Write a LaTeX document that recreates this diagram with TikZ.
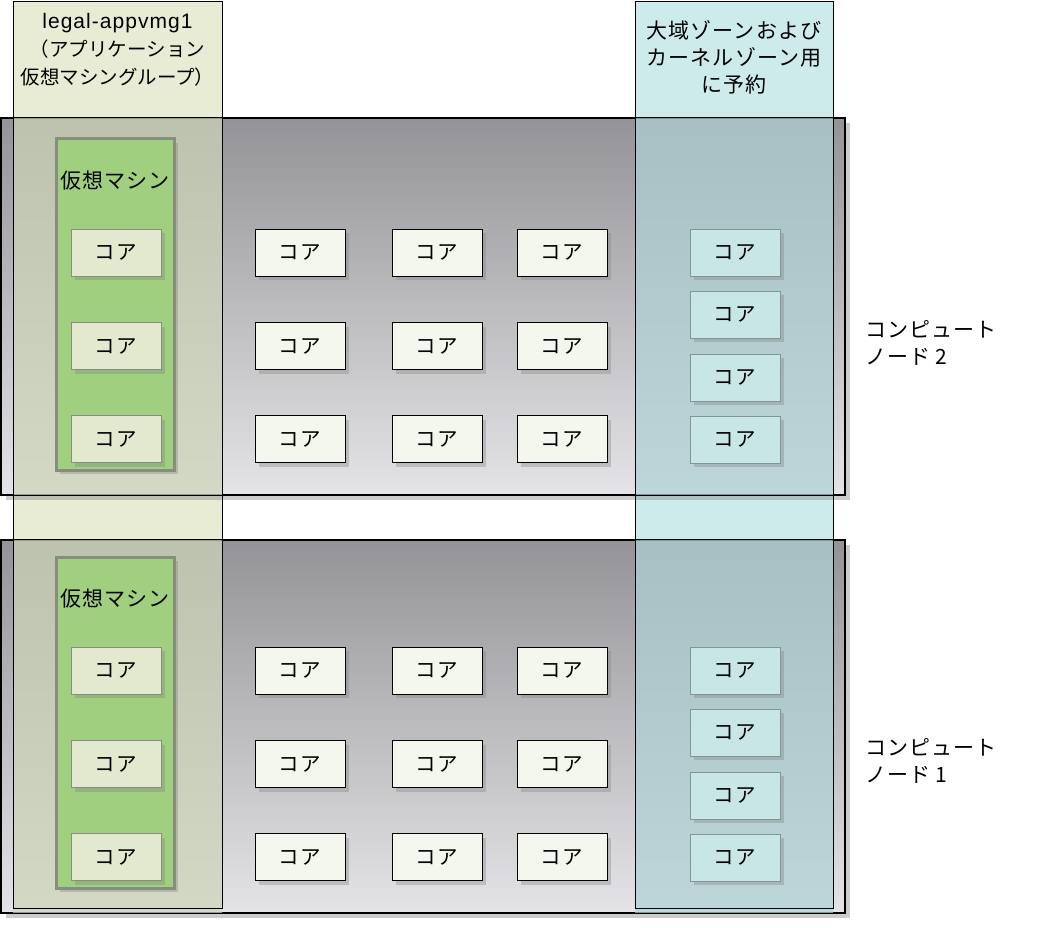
\documentclass[tikz,border=0pt]{standalone}
\usepackage{fontspec}
\setmainfont{Noto Sans CJK JP}
\newfontfamily\espace{Noto Sans CJK JP}[LetterSpace=5]
\newfontfamily\latin{Liberation Sans}[LetterSpace=5]
\usepackage{xcolor}
\usepackage{tikz}
\usetikzlibrary{shadows,positioning}
\definecolor{cadre}{RGB}{148,148,152}
\definecolor{fond}{RGB}{228,228,230}
\definecolor{groupe}{RGB}{232,236,213}
\definecolor{voilegroupe}{RGB}{206,213,185}
\definecolor{reserve}{RGB}{206,235,236}
\definecolor{voilereserve}{RGB}{175,209,213}
\definecolor{vm}{RGB}{160,207,128}
\definecolor{vmbord}{RGB}{136,142,126}
\definecolor{coeurblanc}{RGB}{243,247,238}
\definecolor{coeurvm}{RGB}{227,233,207}
\definecolor{coeurres}{RGB}{200,230,230}
\definecolor{resbord}{RGB}{128,150,152}

\begin{document}
\begin{tikzpicture}[x=1pt, y=-1pt,
    every node/.style={inner sep=0pt, outer sep=0pt, font=\espace\fontsize{21}{27}\selectfont},
    hote/.style={draw=black, line width=1.3pt, top color=cadre, bottom color=fond,
      minimum width=844pt, drop shadow={shadow xshift=5pt, shadow yshift=-5pt, opacity=0.4}},
    zone/.style={minimum height=907pt},
    machine/.style={draw=vmbord, line width=3pt, fill=vm, minimum width=118pt,
      drop shadow={shadow xshift=4pt, shadow yshift=-4pt, opacity=0.35}},
    coeur/.style={draw=black, line width=0.9pt, fill=coeurblanc, minimum width=90pt,
      minimum height=47pt, font=\espace\fontsize{20.5}{22}\selectfont,
      drop shadow={shadow xshift=4pt, shadow yshift=-4pt, opacity=0.35}},
    coeurvm/.style={coeur, draw=vmbord},
    coeurres/.style={coeur, draw=resbord}]
    \useasboundingbox (0,0) rectangle (1049,928);
    \node[zone, fill=groupe, minimum width=209pt] (groupe) at (117.5,454.5) {};
    \node[zone, fill=reserve, minimum width=198pt] (reserve) at (734,454.5) {};
    \node[hote, minimum height=377pt] (hote2) at (423,306.5) {};
    \node[hote, minimum height=373pt] (hote1) at (423,726.5) {};
    \begin{scope}[fill opacity=0.72]
      \fill[voilegroupe] (hote2.north west -| groupe.west) rectangle (hote2.south east -| groupe.east);
      \fill[voilegroupe] (hote1.north west -| groupe.west) rectangle (hote1.south east -| groupe.east);
      \fill[voilereserve] (hote2.north west -| reserve.west) rectangle (hote2.south east -| reserve.east);
      \fill[voilereserve] (hote1.north west -| reserve.west) rectangle (hote1.south east -| reserve.east);
    \end{scope}
    \draw[line width=0.9pt] (groupe.north west) rectangle (groupe.south east);
    \draw[line width=0.9pt] (reserve.north west) rectangle (reserve.south east);
    \node[align=center, font=\fontsize{19.5}{28}\selectfont] (groupeTitre) at (117.5,50)
      {{\latin\fontsize{21}{28}\selectfont legal-appvmg1}\\（アプリケーション\\仮想マシングループ）};
    \node[align=center] (reserveTitre) at (734,57)
      {大域ゾーンおよび\\カーネルゾーン用\\に予約};
    \foreach \dy/\n in {0/2,418/1} {
      \node[machine, minimum height=331pt] (vm\n) at (115,304.5+\dy) {};
      \node (vmTitre\n) at (115,181+\dy) {仮想マシン};
      \foreach \y [count=\i] in {252.5,346,439} {
        \node[coeurvm, fill=coeurvm] (cv\n-\i) at (116,\y+\dy) {コア};
        \foreach \x [count=\j] in {300,437,562}
          \node[coeur] (c\n-\i-\j) at (\x,\y+\dy) {コア};
      }
      \foreach \y [count=\i] in {252.5,314.5,377.5,439.5}
        \node[coeurres, fill=coeurres] (cr\n-\i) at (735,\y+\dy) {コア};
      \node[align=left, anchor=west] (nom\n) at (865,343+\dy) {コンピュート\\ノード \n};
    }
  \end{tikzpicture}
\end{document}
